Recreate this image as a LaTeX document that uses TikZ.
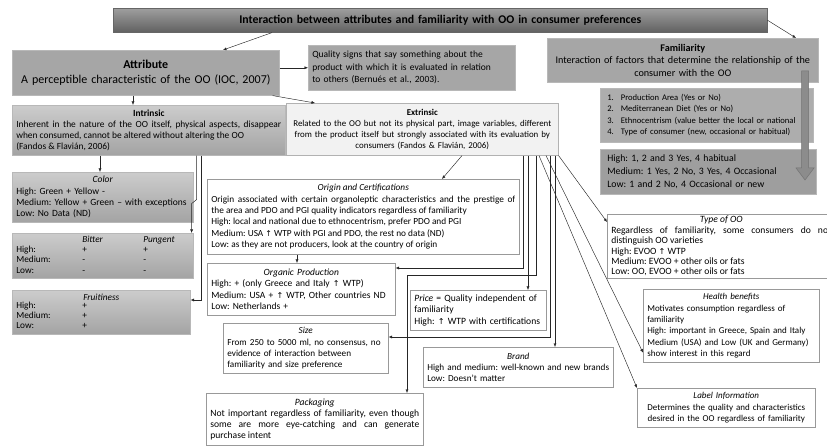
\documentclass[tikz,border=0pt]{standalone}
\usepackage{fontspec}
\setmainfont{Carlito}
\newfontfamily\arrowfont[Scale=0.85]{DejaVu Sans}
\usetikzlibrary{arrows.meta}

\newcommand{\upar}{{\arrowfont\char"2191}}
\newcommand{\bodyfont}{\fontsize{9.2}{11.2}\selectfont}

\tikzset{
  boxbase/.style={anchor=north west, inner xsep=4pt, inner ysep=2pt, line width=0.6pt, font=\bodyfont},
  wbox/.style={boxbase, draw=black!40, fill=white},
  gbox/.style={boxbase, draw=black!28, fill=black!35},
  shbox/.style={boxbase, draw=black!28, top color=black!20, bottom color=black!36},
  sz/.style n args={2}{minimum width=#1pt, minimum height=#2pt, text width=#1pt-8pt},
  conn/.style={black!85, line width=0.45pt, -{Latex[length=3.5pt,width=3pt]}},
  bigarrow/.style={fill=black!45, draw=black!55, line width=0.5pt}
}

\begin{document}
\frenchspacing
\begin{tikzpicture}[x=1pt,y=-1pt]
\useasboundingbox (0,0) rectangle (827,446);
\clip (0,0) rectangle (827,446);

% top row
\node[boxbase, draw=black!60, top color=black!38, bottom color=black!62, sz={654}{24}, align=center,
      font=\fontsize{11.8}{14}\selectfont\bfseries] (title) at (113,8)
  {Interaction between attributes and familiarity with OO in consumer preferences};

\node[gbox, sz={267}{45}, align=center, font=\fontsize{12}{14.5}\selectfont] (attr) at (12,50)
  {\textbf{Attribute}\\ A perceptible characteristic of the OO (IOC, 2007)};
\node[gbox, sz={207}{45}, align=left, font=\fontsize{9.5}{12.5}\selectfont] (qual) at (308,45)
  {Quality signs that say something about the\\ product with which it is evaluated in relation\\ to others (Bernués et al., 2003).};

% familiarity column
\node[gbox, sz={271}{44}, align=center, font=\fontsize{10.2}{12.3}\selectfont] (fam) at (547,38)
  {\textbf{Familiarity}\\ Interaction of factors that determine the relationship of the\\ consumer with the OO};
\node[gbox, fill=black!32, sz={213}{54}, align=left, font=\fontsize{8.6}{11.5}\selectfont] (famlist) at (600,88)
  {\begin{tabular}{@{\hspace{3pt}}l@{\hspace{7pt}}l@{}}
   1. & Production Area (Yes or No)\\
   2. & Mediterranean Diet (Yes or No)\\
   3. & Ethnocentrism (value better the local or national\\
   4. & Type of consumer (new, occasional or habitual)
   \end{tabular}};
\node[gbox, fill=black!38, sz={216}{45}, align=left, font=\fontsize{9.8}{12.8}\selectfont] (famlev) at (600,149)
  {\hspace{3pt}High: 1, 2 and 3 Yes, 4 habitual\\ \hspace{3pt}Medium: 1 Yes, 2 No, 3 Yes, 4 Occasional\\ \hspace{3pt}Low: 1 and 2 No, 4 Occasional or new};
\draw[bigarrow] (801.5,71) -- (808.5,71) -- (808.5,168) -- (814,168) -- (805,180)
  -- (796,168) -- (801.5,168) -- cycle;

% intrinsic / extrinsic
\node[shbox, sz={273}{50}, align=justify, font=\fontsize{9.4}{11}\selectfont] (intr) at (12,105)
  {{\centering\bfseries Intrinsic\par}Inherent in the nature of the OO itself, physical aspects, disappear\linebreak
   when consumed, cannot be altered without altering the OO\\ (Fandos \& Flavián, 2006)};
\node[wbox, fill=black!5, draw=black!30, sz={272}{52}, align=center, font=\fontsize{8.9}{11}\selectfont] (extr) at (286,103)
  {\textbf{Extrinsic}\\ Related to the OO but not its physical part, image variables, different\\
   from the product itself but strongly associated with its evaluation by\\ consumers (Fandos \& Flavián, 2006)};

% intrinsic cues
\node[shbox, sz={181}{50}, align=left, font=\fontsize{9.5}{11.3}\selectfont] (color) at (12,172)
  {{\centering\itshape Color\par}High: Green + Yellow -\\ Medium: Yellow + Green -- with exceptions\\ Low: No Data (ND)};
\node[shbox, sz={181}{45}, align=left, font=\fontsize{9.3}{11}\selectfont] (bitter) at (12,233)
  {\renewcommand{\arraystretch}{0.92}%
   \begin{tabular}{@{}p{54pt}p{49pt}l@{}}
   & \textit{Bitter} & \textit{Pungent}\\
   High: & + & +\\ Medium: & - & -\\ Low: & - & -
   \end{tabular}};
\node[shbox, sz={178}{44}, align=left, font=\fontsize{9.3}{10.5}\selectfont] (fruit) at (12,290)
  {{\centering\itshape Fruitiness\par}\renewcommand{\arraystretch}{0.95}%
   \begin{tabular}{@{}p{54pt}l@{}}
   High: & +\\ Medium: & +\\ Low: & +
   \end{tabular}};

% extrinsic cues
\node[wbox, sz={312}{75}, align=justify, font=\fontsize{9.3}{11.3}\selectfont] (origin) at (207,179)
  {{\centering\itshape Origin and Certifications\par}Origin associated with certain organoleptic characteristics and the prestige of\linebreak
   the area and PDO and PGI quality indicators regardless of familiarity\\
   High: local and national due to ethnocentrism, prefer PDO and PGI\\
   Medium: USA \upar{} WTP with PGI and PDO, the rest no data (ND)\\
   Low: as they are not producers, look at the country of origin};
\node[wbox, sz={188}{52}, align=left, font=\fontsize{9.5}{11.2}\selectfont] (organic) at (207,263)
  {{\centering\itshape Organic Production\par}High: + (only Greece and Italy \upar{} WTP)\\
   Medium: USA + \upar{} WTP, Other countries ND\\ Low: Netherlands +};
\node[wbox, sz={165}{50}, align=left] (size) at (223,323)
  {{\centering\itshape Size\par}From 250 to 5000 ml, no consensus, no\\ evidence of interaction between\\ familiarity and size preference};
\node[wbox, sz={136}{40}, align=left, font=\fontsize{9.6}{11.3}\selectfont] (price) at (410,290)
  {\textit{Price} = Quality independent of\\ familiarity\\ High: \upar{} WTP with certifications};
\node[wbox, sz={190}{40}, align=left] (brand) at (423,347)
  {{\centering\itshape Brand\par}High and medium: well-known and new brands\\ Low: Doesn't matter};
\node[wbox, sz={217}{52}, align=justify, font=\fontsize{9.6}{11.2}\selectfont] (pack) at (206,393)
  {{\centering\itshape Packaging\par}Not important regardless of familiarity, even though\linebreak
   some are more eye-catching and can generate\linebreak purchase intent};
\node[wbox, sz={228}{64}, align=justify, font=\fontsize{9.6}{10.4}\selectfont] (typeoo) at (607,214)
  {{\centering\itshape Type of OO\par}Regardless of familiarity, some consumers do not\linebreak
   distinguish OO varieties\\ High: EVOO \upar{} WTP\\ Medium: EVOO + other oils or fats\\ Low: OO, EVOO + other oils or fats};
\node[wbox, sz={176}{73}, align=left, font=\fontsize{9}{11.3}\selectfont] (health) at (643,289)
  {{\centering\itshape Health benefits\par}Motivates consumption regardless of\\ familiarity\\
   High: important in Greece, Spain and Italy\\ Medium (USA) and Low (UK and Germany)\\ show interest in this regard};
\node[wbox, sz={178}{39}, align=center, font=\fontsize{9}{11.2}\selectfont] (label) at (637,388)
  {\textit{Label Information}\\ Determines the quality and characteristics\\ desired in the OO regardless of familiarity};

% connectors
\draw[conn] ([xshift=159pt]title.south west) -- ([xshift=211pt]attr.north west);
\draw[conn] (title.east) -- ([xshift=249pt]fam.north west);
\draw[conn] (qual.west -| attr.east) -- (qual.west);
\draw[conn] ([xshift=121pt]attr.south west) -- ([xshift=121pt]intr.north west);
\draw[conn] ([xshift=-7pt]attr.south east) -- ([xshift=29pt]extr.north west);

\draw[conn] ([xshift=88pt]intr.south west) -- ([xshift=88pt]color.north west);
\draw[conn] ([xshift=-89pt]intr.south east) -- ++(0,44) -- ++(-5,4) -- ([xshift=-2pt]bitter.north east);
\draw[conn] ([xshift=-84pt]intr.south east) |- ([yshift=-10pt]fruit.north east);

\draw[conn] ([xshift=176pt]extr.south west) -- ([xshift=235pt]origin.north west);
\draw[conn] ([xshift=90pt]origin.south west) -- ([xshift=90pt]organic.north west);
\draw[conn] ([xshift=237pt]extr.south west) |- ([yshift=-5pt]organic.north east);
\draw[conn] ([xshift=242pt]extr.south west) -- ([xshift=118pt]price.north west);
\draw[conn] ([xshift=250pt]extr.south west) -- ++(0,120) -| ([xshift=201pt]pack.north west);
\draw[conn] ([xshift=264pt]extr.south west) |- ([yshift=-14pt]size.north east);
\draw[conn] ([xshift=269pt]extr.south west) -- ([xshift=132pt]brand.north west);
\draw[conn] ([xshift=253pt]extr.south west) -- (label.north west);
\draw[conn] ([xshift=260pt]extr.south west) -- ([yshift=10pt]health.south west);
\draw[conn] (extr.south east) -- ([yshift=-8pt]typeoo.north west);
\end{tikzpicture}
\end{document}
